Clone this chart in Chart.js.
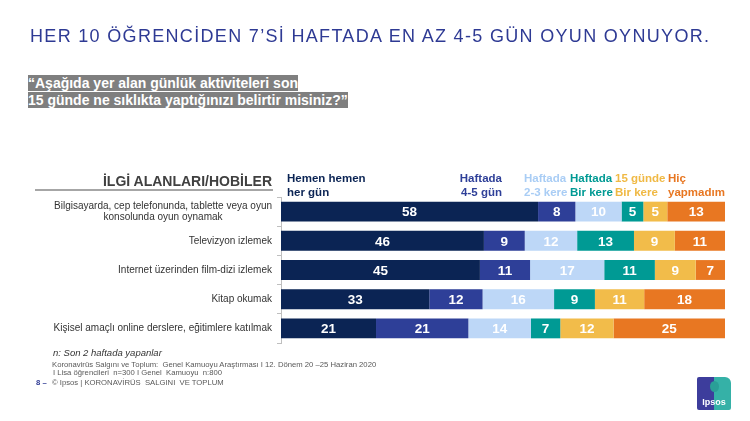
<!DOCTYPE html>
<html lang="tr">

<head>
  <meta charset="UTF-8">
  <title>Her 10 öğrenciden 7'si haftada en az 4-5 gün oyun oynuyor</title>
  <script src="https://cdn.jsdelivr.net/npm/chart.js"></script>
  <style>
    body {
      margin: 0;
      width: 750px;
      height: 421px;
      background: #ffffff;
      font-family: 'Liberation Sans', Arial, sans-serif;
      position: relative;
      overflow: hidden;
    }

    .abs {
      position: absolute;
      white-space: nowrap;
    }

    #chartBox {
      position: absolute;
      left: 0;
      top: 0;
      width: 750px;
      height: 421px;
    }

    .title {
      left: 30px;
      top: 26px;
      font-size: 18px;
      letter-spacing: 1.32px;
      color: #2e3a94;
    }

    .question {
      left: 28px;
      top: 75px;
      font-size: 14px;
      font-weight: bold;
      color: #ffffff;
      line-height: 16.5px;
    }

    .question span {
      background: #7f7f7f;
    }

    .section {
      right: 478px;
      top: 173px;
      font-size: 14px;
      font-weight: bold;
      color: #404040;
    }

    .section-line {
      position: absolute;
      left: 35px;
      top: 189px;
      width: 238px;
      height: 2px;
      background: #a6a6a6;
    }

    .head {
      font-size: 11.5px;
      font-weight: bold;
      line-height: 14px;
      top: 171px;
    }

    .foot {
      color: #595959;
      font-size: 7.7px;
    }

    .logo {
      position: absolute;
      left: 697px;
      top: 377px;
      width: 34px;
      height: 33px;
      background: linear-gradient(to right, #3d3d9c 50%, #35b1a7 50%);
      border-radius: 2px 6px 2px 2px;
      color: #fff;
      font-weight: bold;
      font-size: 9px;
      text-align: center;
    }
  </style>
</head>

<body>

  <div id="chartBox"><canvas id="activityChart"></canvas></div>

  <div class="abs title">HER 10 ÖĞRENCİDEN 7’Sİ HAFTADA EN AZ 4-5 GÜN OYUN OYNUYOR.</div>

  <div class="abs question"><span>“Aşağıda yer alan günlük aktiviteleri son</span><br><span>15 günde ne sıklıkta yaptığınızı belirtir misiniz?”</span></div>

  <div class="abs section">İLGİ ALANLARI/HOBİLER</div>
  <div class="section-line"></div>

  <div class="abs head" style="left:287px; color:#0b2454;">Hemen hemen<br>her gün</div>
  <div class="abs head" style="right:248px; text-align:right; color:#2e3f98;">Haftada<br>4-5 gün</div>
  <div class="abs head" style="left:524px; color:#a9cdf5;">Haftada<br>2-3 kere</div>
  <div class="abs head" style="left:570px; color:#009a94;">Haftada<br>Bir kere</div>
  <div class="abs head" style="left:615px; color:#f0b944;">15 günde<br>Bir kere</div>
  <div class="abs head" style="left:668px; color:#e87722;">Hiç<br>yapmadım</div>

  <div class="abs" style="left:53px; top:347px; font-size:9.5px; font-style:italic; color:#333;">n: Son 2 haftada yapanlar</div>
  <div class="abs foot" style="left:52px; top:360px;">Koronavirüs Salgını ve Toplum:&nbsp; Genel Kamuoyu Araştırması I 12. Dönem 20 –25 Haziran 2020</div>
  <div class="abs foot" style="left:53px; top:368px;">I Lisa öğrencileri&nbsp; n=300 I Genel&nbsp; Kamuoyu&nbsp; n:800</div>
  <div class="abs foot" style="left:36px; top:378px; color:#2e3a94; font-weight:bold;">8 –</div>
  <div class="abs foot" style="left:52px; top:378px;">© Ipsos | KORONAVİRÜS&nbsp; SALGINI&nbsp; VE TOPLUM</div>

  <div class="logo">
    <div style="position:absolute; left:13px; top:4px; width:9px; height:11px; border-radius:50%; background:#2a9f97;"></div>
    <div style="position:absolute; left:0; right:0; bottom:3px;">Ipsos</div>
  </div>

  <script>
    // Activities (y axis)
    const categories = [
      ['Bilgisayarda, cep telefonunda, tablette veya oyun', 'konsolunda oyun oynamak'],
      'Televizyon izlemek',
      'Internet üzerinden film-dizi izlemek',
      'Kitap okumak',
      'Kişisel amaçlı online derslere, eğitimlere katılmak'
    ];

    // Frequencies, % (labels are rounded)
    const seriesNames = ['Hemen hemen her gün', 'Haftada 4-5 gün', 'Haftada 2-3 kere', 'Haftada Bir kere', '15 günde Bir kere', 'Hiç yapmadım'];
    const hemenHemenHerGun = [57.9, 45.7, 44.8, 33.4, 21.4];
    const haftada45Gun = [8.4, 9.2, 11.3, 12.0, 20.8];
    const haftada23Kere = [10.4, 11.8, 16.7, 16.1, 14.1];
    const haftadaBirKere = [4.9, 12.8, 11.4, 9.2, 6.6];
    const onBesGundeBirKere = [5.4, 9.2, 9.2, 11.1, 12.0];
    const hicYapmadim = [13.0, 11.3, 6.6, 18.2, 25.1];

    const seriesValues = [hemenHemenHerGun, haftada45Gun, haftada23Kere, haftadaBirKere, onBesGundeBirKere, hicYapmadim];
    const seriesColors = ['#0b2454', '#2e3f98', '#bdd7f7', '#009a94', '#f2bc4a', '#e87722'];

    // white numbers inside the segments
    const segmentLabels = {
      id: 'segmentLabels',
      afterDatasetsDraw(chart) {
        const ctx = chart.ctx;
        ctx.save();
        ctx.font = 'bold 13.5px "Liberation Sans", Arial, sans-serif';
        ctx.fillStyle = '#ffffff';
        ctx.textAlign = 'center';
        ctx.textBaseline = 'middle';
        chart.data.datasets.forEach((ds, i) => {
          chart.getDatasetMeta(i).data.forEach((bar, j) => {
            ctx.fillText(Math.round(ds.data[j]), (bar.x + bar.base) / 2, bar.y + 1);
          });
        });
        ctx.restore();
      }
    };

    // activity names left of the axis, multi-line ones centred in their block
    const activityLabels = {
      id: 'activityLabels',
      afterDraw(chart) {
        const ctx = chart.ctx;
        const yScale = chart.scales.y;
        const right = 272;
        const lineH = 11.5;
        ctx.save();
        ctx.font = '10px "Liberation Sans", Arial, sans-serif';
        ctx.fillStyle = '#333333';
        ctx.textAlign = 'center';
        ctx.textBaseline = 'middle';
        categories.forEach((cat, i) => {
          const lines = Array.isArray(cat) ? cat : [cat];
          const w = Math.max(...lines.map(l => ctx.measureText(l).width));
          const cx = right - w / 2;
          const y0 = yScale.getPixelForTick(i) - (lines.length - 1) * lineH / 2;
          lines.forEach((l, k) => ctx.fillText(l, cx, y0 + k * lineH));
        });
        ctx.restore();
      }
    };

    new Chart(document.getElementById('activityChart'), {
      type: 'bar',
      data: {
        labels: categories,
        datasets: seriesNames.map((name, i) => ({
          label: name,
          data: seriesValues[i],
          backgroundColor: seriesColors[i],
          borderWidth: 0,
          barPercentage: 0.68,
          categoryPercentage: 1
        }))
      },
      options: {
        indexAxis: 'y',
        responsive: true,
        maintainAspectRatio: false,
        animation: false,
        layout: {
          padding: { left: 277, right: 25, top: 197, bottom: 78 }
        },
        plugins: {
          legend: { display: false },
          tooltip: { enabled: false }
        },
        scales: {
          x: {
            stacked: true,
            min: 0,
            max: 100,
            display: false
          },
          y: {
            stacked: true,
            ticks: { display: false },
            grid: {
              drawOnChartArea: false,
              tickLength: 4,
              color: '#bfbfbf'
            },
            border: { color: '#bfbfbf' }
          }
        }
      },
      plugins: [segmentLabels, activityLabels]
    });
  </script>

</body>

</html>
